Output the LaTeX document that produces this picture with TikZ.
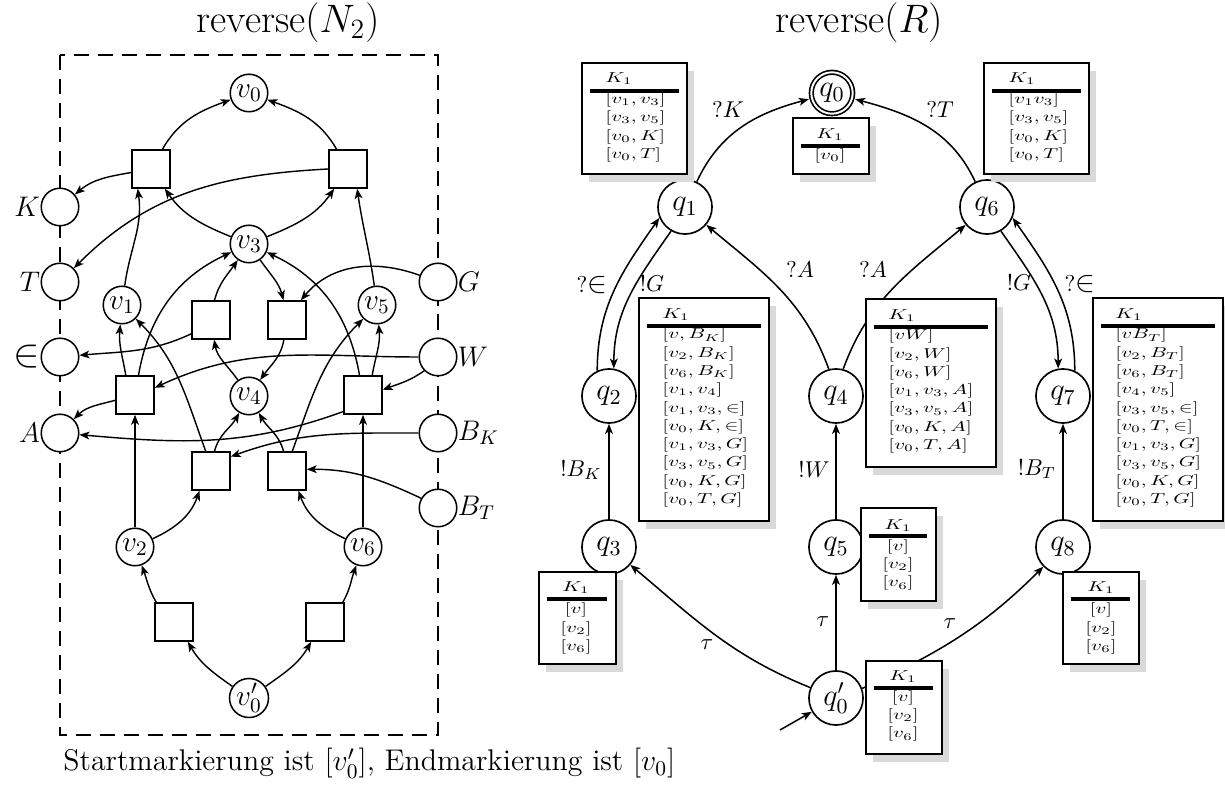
\RequirePackage{fix-cm}
\documentclass[tikz,border=0pt]{standalone}
\usepackage{graphicx}
\usetikzlibrary{arrows.meta,shadows,fit}
\newcommand{\kboxl}[1]{\scalebox{0.96}[0.66]{\begin{tabular}{@{}l@{}}#1\end{tabular}}}
\newcommand{\kboxc}[1]{\scalebox{0.96}[0.66]{\begin{tabular}{@{}c@{}}#1\end{tabular}}}
\newcommand{\khead}{\scalebox{0.96}[0.66]{$K_1$}}
\newcommand{\bigin}[1]{\scalebox{#1}{$\in$}}
\begin{document}
\begin{tikzpicture}[x=0.4585pt,y=0.4585pt,
  >={Stealth[length=4.6pt,width=3.6pt,inset=1.2pt]},
  pl/.style={circle,draw,line width=0.7pt,fill=white,minimum size=17.2pt,inner sep=0pt,font=\fontsize{13.5}{15}\selectfont},
  ext/.style={pl,label distance=5pt},
  plab/.style={font=\fontsize{13}{15}\selectfont,inner sep=0pt},
  tr/.style={rectangle,draw,line width=0.7pt,fill=white,minimum size=17.4pt,inner sep=0pt},
  arc/.style={->,line width=0.65pt},
  arcb/.style={->,line width=0.7pt},
  st/.style={circle,draw,line width=0.75pt,fill=white,minimum size=24.8pt,inner sep=0pt,font=\fontsize{14}{16}\selectfont},
  elab/.style={inner sep=0pt,font=\fontsize{10.5}{12}\selectfont},
  kbox/.style={draw,line width=1.3pt,fill=white,inner sep=0pt,drop shadow={shadow xshift=3.2pt,shadow yshift=-3.7pt,fill=black!15,opacity=1}},
  krule/.style={line width=1.4pt},
  ktext/.style={inner sep=0pt,font=\fontsize{10}{12.7}\selectfont},
  frame/.style={line width=0.65pt,dash pattern=on 6.9pt off 4.1pt},
]
\useasboundingbox (0,0) rectangle (1225,-785);

% ---------------- titles and caption
\node[font=\fontsize{18.2}{22}\selectfont,anchor=base] (t1) at (288,-33) {reverse$(N_2)$};
\node[font=\fontsize{18.2}{22}\selectfont,anchor=base] (t2) at (859,-33) {reverse$(R)$};
\node[font=\fontsize{13.7}{16}\selectfont,anchor=base west,inner sep=0pt] (cap) at (63,-771) {Startmarkierung ist $[v'_0]$, Endmarkierung ist $[v_0]$};

% ---------------- left net
\draw[frame] (60,-55) rectangle (438,-735);

\node[pl] (v0) at (249,-93) {$v_0$};
\node[pl] (v3) at (249,-244) {$v_3$};
\node[pl] (v1) at (122,-305) {$v_1$};
\node[pl] (v5) at (377,-305) {$v_5$};
\node[pl] (v4) at (249,-396) {$v_4$};
\node[pl] (v2) at (135,-547) {$v_2$};
\node[pl] (v6) at (363,-547) {$v_6$};
\node[pl] (v0p) at (249,-698) {$v'_0$};

\node[ext,label={[plab]left:$K$}] (K) at (60,-207) {};
\node[ext,label={[plab]left:$T$}] (T) at (60,-282) {};
\node[ext,label={[plab]left:\bigin{1.4}}] (E) at (60,-357) {};
\node[ext,label={[plab]left:$A$}] (A) at (60,-433) {};
\node[ext,label={[plab]right:$G$}] (G) at (438,-282) {};
\node[ext,label={[plab]right:$W$}] (W) at (438,-357) {};
\node[ext,label={[plab]right:$B_K$}] (BK) at (438,-433) {};
\node[ext,label={[plab]right:$B_T$}] (BT) at (438,-508) {};

\node[tr] (ttl) at (151,-169) {};
\node[tr] (ttr) at (348,-169) {};
\node[tr] (tml) at (211,-320) {};
\node[tr] (tmr) at (287,-320) {};
\node[tr] (tal) at (135,-395) {};
\node[tr] (tar) at (363,-395) {};
\node[tr] (tll) at (211,-471) {};
\node[tr] (tlr) at (287,-471) {};
\node[tr] (tbl) at (174,-622) {};
\node[tr] (tbr) at (325,-622) {};

\draw[arc] (ttl.60) to[out=60,in=200] (v0);
\draw[arc] (ttr.120) to[out=120,in=-20] (v0);
\draw[arc] (ttl.190) to[out=190,in=40] (K);
\draw[arc] (ttr.west) to[out=183,in=45] (T);
\draw[arc] (v1) to[out=82,in=-82] (ttl.-124);
\draw[arc] (v3) to[out=158,in=-55] (ttl);
\draw[arc] (v3) to[out=22,in=-125] (ttr);
\draw[arc] (v5) to[out=98,in=-82] (ttr.-65);
\draw[arc] (G) to[out=160,in=50] (tmr.55);
\draw[arc] (v3) to[out=-55,in=105] (tmr.100);
\draw[arc] (tml.80) to[out=75,in=-125] (v3);
\draw[arc] (tml.215) to[out=205,in=5] (E);
\draw[arc] (v4) to[out=125,in=-80] (tml.-81);
\draw[arc] (tmr.-99) to[out=-100,in=55] (v4);
\draw[arc] (W) to[out=180,in=25] (tal.20);
\draw[arc] (W.225) to[out=215,in=20] (tar.15);
\draw[arc] (tal.115) to[out=100,in=-95] (v1);
\draw[arc] (tal.80) to[out=80,in=205] (v3);
\draw[arc] (tal.195) to[out=195,in=45] (A);
\draw[arc] (tar.65) to[out=80,in=-85] (v5);
\draw[arc] (tar.100) to[out=100,in=-25] (v3);
\draw[arc] (tar.220) to[out=200,in=-5] (A);
\draw[arc] (BK) to[out=180,in=20] (tll.36);
\draw[arc] (BT.150) to[out=155,in=0] (tlr.5);
\draw[arc] (tll.105) to[out=110,in=-45] (v1);
\draw[arc] (tll.80) to[out=75,in=-120] (v4);
\draw[arc] (tlr.100) to[out=105,in=-60] (v4);
\draw[arc] (tlr.75) to[out=70,in=-135] (v5);
\draw[arc] (v2) -- (tal);
\draw[arc] (v6) -- (tar);
\draw[arc] (v2) to[out=25,in=-110] (tll.-120);
\draw[arc] (v6) to[out=155,in=-70] (tlr.-60);
\draw[arc] (tbl.132) to[out=120,in=-70] (v2);
\draw[arc] (tbr.48) to[out=60,in=-110] (v6);
\draw[arc] (v0p) to[out=145,in=-60] (tbl.-55);
\draw[arc] (v0p) to[out=35,in=-120] (tbr.-125);

% ---------------- right automaton
\node[st,double,double distance=0.9pt,minimum size=19pt,outer sep=1.5pt] (q0) at (832,-93) {$q_0$};
\node[st] (q1) at (685,-207) {$q_1$};
\node[st] (q6) at (987,-207) {$q_6$};
\node[st] (q2) at (609,-396) {$q_2$};
\node[st] (q4) at (836,-396) {$q_4$};
\node[st] (q7) at (1063,-396) {$q_7$};
\node[st] (q3) at (609,-547) {$q_3$};
\node[st] (q5) at (836,-547) {$q_5$};
\node[st] (q8) at (1063,-547) {$q_8$};
\node[st] (q0p) at (836,-698) {$q'_0$};
\coordinate (init) at (780,-730);

\draw[arcb] (q1) to[out=65,in=195] (q0) node[elab] (lK) at (728,-110) {$?K$};
\draw[arcb] (q6) to[out=115,in=-15] (q0) node[elab] (lT) at (940,-110) {$?T$};
\draw[arcb] (q2.115) to[out=90,in=235] (q1.203) node[elab] (lE1) at (592,-285) {$?$\bigin{1.3}};
\draw[arcb] (q1.240) to[out=235,in=90] (q2.80) node[elab] (lG1) at (652,-284) {$!G$};
\draw[arcb] (q4.105) to[out=110,in=-40] (q1) node[elab] (lA1) at (800,-270) {$?A$};
\draw[arcb] (q4.75) to[out=70,in=-140] (q6) node[elab] (lA2) at (873,-270) {$?A$};
\draw[arcb] (q6.-60) to[out=-55,in=90] (q7.100) node[elab] (lG2) at (1019,-283) {$!G$};
\draw[arcb] (q7.65) to[out=90,in=-55] (q6.-23) node[elab] (lE2) at (1080,-284) {$?$\bigin{1.3}};
\draw[arcb] (q3) -- (q2) node[elab] (lBK) at (581,-470) {$!B_K$};
\draw[arcb] (q5) -- (q4) node[elab] (lW) at (814,-470) {$!W$};
\draw[arcb] (q8) -- (q7) node[elab] (lBT) at (1037,-469) {$!B_T$};
\draw[arcb] (q0p) to[out=158,in=-40] (q3) node[elab] (lt1) at (707,-645) {$\tau$};
\draw[arcb] (q0p) -- (q5) node[elab] (lt2) at (823,-622) {$\tau$};
\draw[arcb] (q0p.20) to[out=25,in=-135] (q8) node[elab] (lt3) at (950,-624) {$\tau$};
\draw[arcb] (init) -- (q0p);

% ---------------- marking boxes
\node[kbox,fit={(582,-63) (687,-174)}] (B1) {};
\draw[krule] (590,-91) -- (679,-91);
\node[ktext,anchor=west] (B1h) at (605,-79) {\khead};
\node[ktext,anchor=west] (B1b) at (605,-127.3) {\kboxl{$[v_1, v_3]$\\$[v_3, v_5]$\\$[v_0, K]$\\$[v_0, T]$}};

\node[kbox,fit={(793,-118) (869,-174)}] (B0) {};
\draw[krule] (801,-146) -- (860,-146);
\node[ktext] (B0h) at (830,-135) {\khead};
\node[ktext] (B0b) at (830,-156) {\kboxc{$[v_0]$}};

\node[kbox,fit={(984,-63) (1089,-174)}] (B6) {};
\draw[krule] (992,-91) -- (1081,-91);
\node[ktext,anchor=west] (B6h) at (1008,-79) {\khead};
\node[ktext,anchor=west] (B6b) at (1008,-127.3) {\kboxl{$[v_1 v_3]$\\$[v_3, v_5]$\\$[v_0, K]$\\$[v_0, T]$}};

\node[kbox,fit={(639,-298) (769,-521)}] (B2) {};
\draw[krule] (647,-326) -- (761,-326);
\node[ktext,anchor=west] (B2h) at (662,-315) {\khead};
\node[ktext,anchor=west] (B2b) at (662,-417.5) {\kboxl{$[v, B_K]$\\$[v_2, B_K]$\\$[v_6, B_K]$\\$[v_1, v_4]$\\$[v_1, v_3, \in]$\\$[v_0, K, \in]$\\$[v_1, v_3, G]$\\$[v_3, v_5, G]$\\$[v_0, K, G]$\\$[v_0, T, G]$}};

\node[kbox,fit={(866,-299) (996,-467)}] (B4) {};
\draw[krule] (874,-327) -- (988,-327);
\node[ktext,anchor=west] (B4h) at (888,-316) {\khead};
\node[ktext,anchor=west] (B4b) at (888,-391) {\kboxl{$[v W]$\\$[v_2, W]$\\$[v_6, W]$\\$[v_1, v_3, A]$\\$[v_3, v_5, A]$\\$[v_0, K, A]$\\$[v_0, T, A]$}};

\node[kbox,fit={(1093,-298) (1223,-521)}] (B7) {};
\draw[krule] (1101,-326) -- (1215,-326);
\node[ktext,anchor=west] (B7h) at (1115,-315) {\khead};
\node[ktext,anchor=west] (B7b) at (1115,-417.5) {\kboxl{$[v B_T]$\\$[v_2, B_T]$\\$[v_6, B_T]$\\$[v_4, v_5]$\\$[v_3, v_5, \in]$\\$[v_0, T, \in]$\\$[v_1, v_3, G]$\\$[v_3, v_5, G]$\\$[v_0, K, G]$\\$[v_0, T, G]$}};

\node[kbox,fit={(539,-572) (616,-664)}] (B3) {};
\draw[krule] (547,-599) -- (607,-599);
\node[ktext] (B3h) at (576,-588) {\khead};
\node[ktext] (B3b) at (576,-628.5) {\kboxc{$[v]$\\$[v_2]$\\$[v_6]$}};

\node[kbox,fit={(861,-508) (936,-601)}] (B5) {};
\draw[krule] (869,-536) -- (927,-536);
\node[ktext] (B5h) at (898,-526) {\khead};
\node[ktext] (B5b) at (898,-565) {\kboxc{$[v]$\\$[v_2]$\\$[v_6]$}};

\node[kbox,fit={(866,-661) (942,-754)}] (B0p) {};
\draw[krule] (874,-688) -- (933,-688);
\node[ktext] (B0ph) at (903,-677) {\khead};
\node[ktext] (B0pb) at (903,-716) {\kboxc{$[v]$\\$[v_2]$\\$[v_6]$}};

\node[kbox,fit={(1063,-572) (1139,-664)}] (B8) {};
\draw[krule] (1071,-599) -- (1130,-599);
\node[ktext] (B8h) at (1101,-588) {\khead};
\node[ktext] (B8b) at (1101,-628.5) {\kboxc{$[v]$\\$[v_2]$\\$[v_6]$}};
\end{tikzpicture}
\end{document}
